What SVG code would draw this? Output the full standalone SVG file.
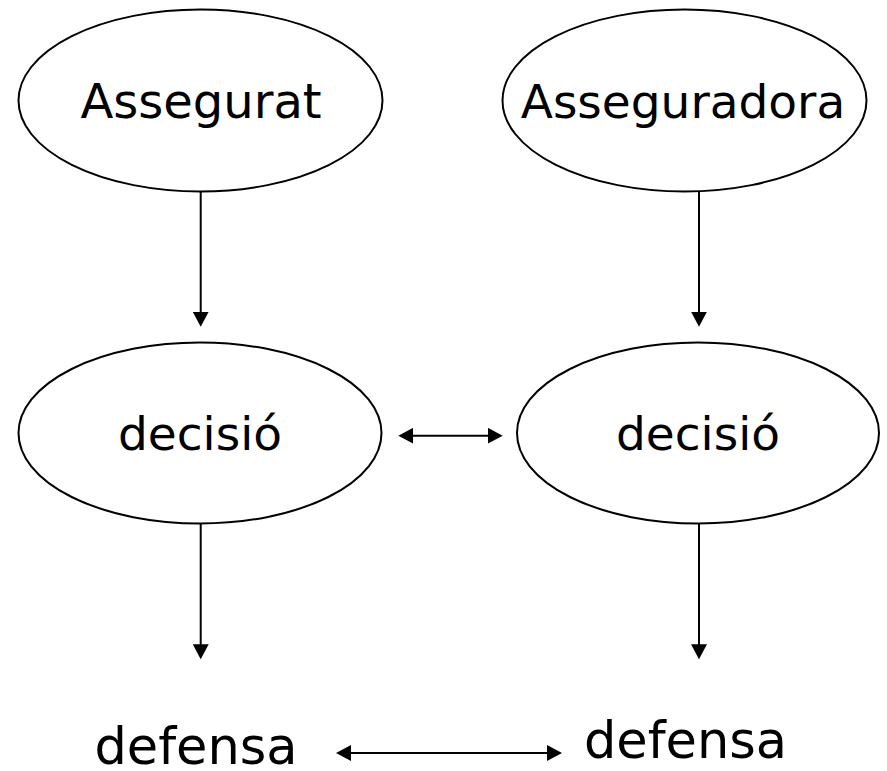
<svg xmlns="http://www.w3.org/2000/svg" width="887" height="771" viewBox="0 0 887 771">
<defs>
<style>
.node ellipse{fill:#fff;stroke:#000;stroke-width:2}
.lbl{font-family:"DejaVu Sans","Verdana",sans-serif;fill:#000;text-anchor:middle}
.conn line{stroke:#000;stroke-width:2}
</style>
<marker id="ah" markerUnits="userSpaceOnUse" markerWidth="16" markerHeight="16" viewBox="0 0 16 16" refX="12" refY="8" orient="auto-start-reverse">
<path d="M0,0 L15,8 L0,16 Z" fill="#000"/>
</marker>
</defs>
<rect width="887" height="771" fill="#fff"/>
<g id="assegurat" class="node">
<ellipse cx="200.5" cy="100.5" rx="182" ry="91"/>
<text class="lbl" x="201" y="118" font-size="48">Assegurat</text>
</g>
<g id="asseguradora" class="node">
<ellipse cx="684.5" cy="100.5" rx="182" ry="91"/>
<text class="lbl" x="683" y="118" font-size="47">Asseguradora</text>
</g>
<g id="decisio1" class="node">
<ellipse cx="200" cy="433" rx="181.5" ry="90.5"/>
<text class="lbl" x="200" y="450" font-size="47">decisió</text>
</g>
<g id="decisio2" class="node">
<ellipse cx="698" cy="433" rx="181" ry="90.5"/>
<text class="lbl" x="698" y="450" font-size="47">decisió</text>
</g>
<g id="defensa1" class="node">
<text class="lbl" x="196" y="763.5" font-size="51">defensa</text>
</g>
<g id="defensa2" class="node">
<text class="lbl" x="685.5" y="758.3" font-size="51">defensa</text>
</g>
<g id="connectors" class="conn">
<line x1="200.7" y1="192" x2="200.7" y2="323.7" marker-end="url(#ah)"/>
<line x1="699" y1="192" x2="699" y2="323.7" marker-end="url(#ah)"/>
<line x1="200.7" y1="524" x2="200.7" y2="656.3" marker-end="url(#ah)"/>
<line x1="699" y1="524" x2="699" y2="656.3" marker-end="url(#ah)"/>
<line x1="401.3" y1="435.7" x2="499.7" y2="435.7" marker-start="url(#ah)" marker-end="url(#ah)"/>
<line x1="339" y1="753" x2="559" y2="753" marker-start="url(#ah)" marker-end="url(#ah)"/>
</g>
</svg>
